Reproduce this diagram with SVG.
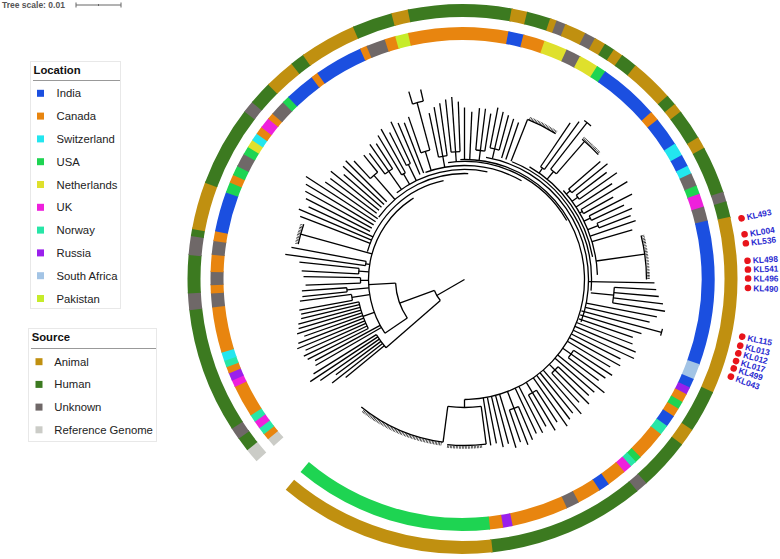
<svg xmlns="http://www.w3.org/2000/svg" width="780" height="559" viewBox="0 0 780 559">
<style>
.rg circle{fill:none;stroke-width:13}
.an{stroke:#c09010}.hu{stroke:#3c7a20}.un{stroke:#6f6868}.rf{stroke:#cbccc7}
.in{stroke:#1b4fe0}.ca{stroke:#e8850f}.sw{stroke:#23e6ef}.us{stroke:#1ed452}.ne{stroke:#dfe02c}
.uk{stroke:#ee20dc}.no{stroke:#27e6a7}.ru{stroke:#9a20ec}.sa{stroke:#a3c4e5}.pk{stroke:#c6ec2a}
.tr{fill:none;stroke:#000;stroke-width:1.3}
.tk{fill:none;stroke:#000;stroke-dasharray:0.6 0.9}
.lt{font-family:"Liberation Sans",Arial,sans-serif;font-weight:bold;font-size:11.3px;fill:#111}
.li{font-family:"Liberation Sans",Arial,sans-serif;font-size:11.3px;fill:#222}
.kl{font-family:"Liberation Sans",Arial,sans-serif;font-weight:bold;font-size:8.5px;fill:#2a2ad0}
</style>

<g id="scale">
<text x="2" y="8" font-family="Liberation Sans, Arial, sans-serif" font-weight="bold" font-size="8.5" fill="#555">Tree scale: 0.01</text>
<path d="M76 5H121M76 2.5V7.5M121 2.5V7.5M98.5 4V6" stroke="#666" stroke-width="1" fill="none"/>
</g>

<g id="ring-location" class="rg" transform="translate(462.5,279)">
<circle r="245.5" class="rf" pathLength="360" stroke-dasharray="2.3 400" transform="rotate(138.5)"/>
<circle r="245.5" class="ca" pathLength="360" stroke-dasharray="1.8 400" transform="rotate(140.5)"/>
<circle r="245.5" class="no" pathLength="360" stroke-dasharray="2 400" transform="rotate(142)"/>
<circle r="245.5" class="uk" pathLength="360" stroke-dasharray="2.1 400" transform="rotate(143.7)"/>
<circle r="245.5" class="no" pathLength="360" stroke-dasharray="2 400" transform="rotate(145.5)"/>
<circle r="245.5" class="ca" pathLength="360" stroke-dasharray="7.7 400" transform="rotate(147.2)"/>
<circle r="245.5" class="uk" pathLength="360" stroke-dasharray="1.9 400" transform="rotate(154.6)"/>
<circle r="245.5" class="ru" pathLength="360" stroke-dasharray="2.1 400" transform="rotate(156.2)"/>
<circle r="245.5" class="ca" pathLength="360" stroke-dasharray="1.8 400" transform="rotate(158)"/>
<circle r="245.5" class="no" pathLength="360" stroke-dasharray="1.8 400" transform="rotate(159.5)"/>
<circle r="245.5" class="sw" pathLength="360" stroke-dasharray="2.3 400" transform="rotate(161)"/>
<circle r="245.5" class="ca" pathLength="360" stroke-dasharray="10.8 400" transform="rotate(163)"/>
<circle r="245.5" class="un" pathLength="360" stroke-dasharray="3.5 400" transform="rotate(173.5)"/>
<circle r="245.5" class="ca" pathLength="360" stroke-dasharray="2.2 400" transform="rotate(176.7)"/>
<circle r="245.5" class="un" pathLength="360" stroke-dasharray="3.3 400" transform="rotate(178.6)"/>
<circle r="245.5" class="ca" pathLength="360" stroke-dasharray="4.2 400" transform="rotate(181.6)"/>
<circle r="245.5" class="un" pathLength="360" stroke-dasharray="3.5 400" transform="rotate(185.5)"/>
<circle r="245.5" class="ca" pathLength="360" stroke-dasharray="2.5 400" transform="rotate(188.7)"/>
<circle r="245.5" class="in" pathLength="360" stroke-dasharray="9.5 400" transform="rotate(190.9)"/>
<circle r="245.5" class="us" pathLength="360" stroke-dasharray="2.7 400" transform="rotate(200.1)"/>
<circle r="245.5" class="ca" pathLength="360" stroke-dasharray="2.2 400" transform="rotate(202.5)"/>
<circle r="245.5" class="us" pathLength="360" stroke-dasharray="2.5 400" transform="rotate(204.4)"/>
<circle r="245.5" class="un" pathLength="360" stroke-dasharray="3.4 400" transform="rotate(206.6)"/>
<circle r="245.5" class="us" pathLength="360" stroke-dasharray="2.2 400" transform="rotate(209.7)"/>
<circle r="245.5" class="ne" pathLength="360" stroke-dasharray="2.1 400" transform="rotate(211.6)"/>
<circle r="245.5" class="sw" pathLength="360" stroke-dasharray="2.1 400" transform="rotate(213.4)"/>
<circle r="245.5" class="ca" pathLength="360" stroke-dasharray="2.1 400" transform="rotate(215.2)"/>
<circle r="245.5" class="uk" pathLength="360" stroke-dasharray="2.8 400" transform="rotate(217)"/>
<circle r="245.5" class="ca" pathLength="360" stroke-dasharray="1.8 400" transform="rotate(219.5)"/>
<circle r="245.5" class="un" pathLength="360" stroke-dasharray="3.8 400" transform="rotate(221)"/>
<circle r="245.5" class="us" pathLength="360" stroke-dasharray="2 400" transform="rotate(224.5)"/>
<circle r="245.5" class="in" pathLength="360" stroke-dasharray="7.3 400" transform="rotate(226.2)"/>
<circle r="245.5" class="ca" pathLength="360" stroke-dasharray="1.9 400" transform="rotate(233.2)"/>
<circle r="245.5" class="in" pathLength="360" stroke-dasharray="11.5 400" transform="rotate(234.8)"/>
<circle r="245.5" class="ca" pathLength="360" stroke-dasharray="1.9 400" transform="rotate(246)"/>
<circle r="245.5" class="un" pathLength="360" stroke-dasharray="4.7 400" transform="rotate(247.6)"/>
<circle r="245.5" class="ca" pathLength="360" stroke-dasharray="2.8 400" transform="rotate(252)"/>
<circle r="245.5" class="pk" pathLength="360" stroke-dasharray="3.3 400" transform="rotate(254.5)"/>
<circle r="245.5" class="ca" pathLength="360" stroke-dasharray="23.3 400" transform="rotate(257.5)"/>
<circle r="245.5" class="in" pathLength="360" stroke-dasharray="3.8 400" transform="rotate(280.5)"/>
<circle r="245.5" class="ca" pathLength="360" stroke-dasharray="5.3 400" transform="rotate(284)"/>
<circle r="245.5" class="ne" pathLength="360" stroke-dasharray="5.7 400" transform="rotate(289)"/>
<circle r="245.5" class="un" pathLength="360" stroke-dasharray="3.7 400" transform="rotate(294.4)"/>
<circle r="245.5" class="ne" pathLength="360" stroke-dasharray="4.8 400" transform="rotate(297.8)"/>
<circle r="245.5" class="us" pathLength="360" stroke-dasharray="2.5 400" transform="rotate(302.3)"/>
<circle r="245.5" class="in" pathLength="360" stroke-dasharray="14.3 400" transform="rotate(304.5)"/>
<circle r="245.5" class="ca" pathLength="360" stroke-dasharray="2.5 400" transform="rotate(318.5)"/>
<circle r="245.5" class="in" pathLength="360" stroke-dasharray="7.1 400" transform="rotate(320.7)"/>
<circle r="245.5" class="sw" pathLength="360" stroke-dasharray="3.3 400" transform="rotate(327.5)"/>
<circle r="245.5" class="in" pathLength="360" stroke-dasharray="3.1 400" transform="rotate(330.5)"/>
<circle r="245.5" class="sw" pathLength="360" stroke-dasharray="2.2 400" transform="rotate(333.3)"/>
<circle r="245.5" class="un" pathLength="360" stroke-dasharray="3.3 400" transform="rotate(335.2)"/>
<circle r="245.5" class="us" pathLength="360" stroke-dasharray="2.3 400" transform="rotate(338.2)"/>
<circle r="245.5" class="uk" pathLength="360" stroke-dasharray="3.4 400" transform="rotate(340.2)"/>
<circle r="245.5" class="un" pathLength="360" stroke-dasharray="3.6 400" transform="rotate(343.3)"/>
<circle r="245.5" class="in" pathLength="360" stroke-dasharray="33.5 400" transform="rotate(346.6)"/>
<circle r="245.5" class="sa" pathLength="360" stroke-dasharray="3.9 400" transform="rotate(19.8)"/>
<circle r="245.5" class="in" pathLength="360" stroke-dasharray="2.4 400" transform="rotate(23.4)"/>
<circle r="245.5" class="ru" pathLength="360" stroke-dasharray="2 400" transform="rotate(25.5)"/>
<circle r="245.5" class="ca" pathLength="360" stroke-dasharray="2.3 400" transform="rotate(27.2)"/>
<circle r="245.5" class="us" pathLength="360" stroke-dasharray="2.1 400" transform="rotate(29.2)"/>
<circle r="245.5" class="ca" pathLength="360" stroke-dasharray="2.3 400" transform="rotate(31)"/>
<circle r="245.5" class="in" pathLength="360" stroke-dasharray="3 400" transform="rotate(33)"/>
<circle r="245.5" class="no" pathLength="360" stroke-dasharray="2.6 400" transform="rotate(35.7)"/>
<circle r="245.5" class="ca" pathLength="360" stroke-dasharray="7.3 400" transform="rotate(38)"/>
<circle r="245.5" class="us" pathLength="360" stroke-dasharray="1.8 400" transform="rotate(45)"/>
<circle r="245.5" class="no" pathLength="360" stroke-dasharray="1.8 400" transform="rotate(46.5)"/>
<circle r="245.5" class="uk" pathLength="360" stroke-dasharray="2.3 400" transform="rotate(48)"/>
<circle r="245.5" class="ca" pathLength="360" stroke-dasharray="4.8 400" transform="rotate(50)"/>
<circle r="245.5" class="in" pathLength="360" stroke-dasharray="2.8 400" transform="rotate(54.5)"/>
<circle r="245.5" class="ca" pathLength="360" stroke-dasharray="5.8 400" transform="rotate(57)"/>
<circle r="245.5" class="un" pathLength="360" stroke-dasharray="3.3 400" transform="rotate(62.5)"/>
<circle r="245.5" class="ca" pathLength="360" stroke-dasharray="13.3 400" transform="rotate(65.5)"/>
<circle r="245.5" class="ru" pathLength="360" stroke-dasharray="2.5 400" transform="rotate(78.5)"/>
<circle r="245.5" class="ca" pathLength="360" stroke-dasharray="3.3 400" transform="rotate(80.7)"/>
<circle r="245.5" class="us" pathLength="360" stroke-dasharray="46.3 400" transform="rotate(83.7)"/>
</g>

<g id="ring-source" class="rg" transform="translate(462.5,279)">
<circle r="268.5" class="rf" pathLength="360" stroke-dasharray="3.3 400" transform="rotate(138.5)"/>
<circle r="268.5" class="hu" pathLength="360" stroke-dasharray="3.3 400" transform="rotate(141.5)"/>
<circle r="268.5" class="un" pathLength="360" stroke-dasharray="2.8 400" transform="rotate(144.5)"/>
<circle r="268.5" class="hu" pathLength="360" stroke-dasharray="26.8 400" transform="rotate(147)"/>
<circle r="268.5" class="un" pathLength="360" stroke-dasharray="3.8 400" transform="rotate(173.5)"/>
<circle r="268.5" class="hu" pathLength="360" stroke-dasharray="8.3 400" transform="rotate(177)"/>
<circle r="268.5" class="un" pathLength="360" stroke-dasharray="4.3 400" transform="rotate(185)"/>
<circle r="268.5" class="hu" pathLength="360" stroke-dasharray="1.8 400" transform="rotate(189)"/>
<circle r="268.5" class="an" pathLength="360" stroke-dasharray="10.3 400" transform="rotate(190.5)"/>
<circle r="268.5" class="hu" pathLength="360" stroke-dasharray="17.3 400" transform="rotate(200.5)"/>
<circle r="268.5" class="un" pathLength="360" stroke-dasharray="2.8 400" transform="rotate(217.5)"/>
<circle r="268.5" class="hu" pathLength="360" stroke-dasharray="5.3 400" transform="rotate(220)"/>
<circle r="268.5" class="an" pathLength="360" stroke-dasharray="6.8 400" transform="rotate(225)"/>
<circle r="268.5" class="hu" pathLength="360" stroke-dasharray="3.3 400" transform="rotate(231.5)"/>
<circle r="268.5" class="an" pathLength="360" stroke-dasharray="12.3 400" transform="rotate(234.5)"/>
<circle r="268.5" class="hu" pathLength="360" stroke-dasharray="8.8 400" transform="rotate(246.5)"/>
<circle r="268.5" class="an" pathLength="360" stroke-dasharray="3.8 400" transform="rotate(255)"/>
<circle r="268.5" class="hu" pathLength="360" stroke-dasharray="22.1 400" transform="rotate(258.5)"/>
<circle r="268.5" class="an" pathLength="360" stroke-dasharray="3.6 400" transform="rotate(280.3)"/>
<circle r="268.5" class="hu" pathLength="360" stroke-dasharray="5.3 400" transform="rotate(283.6)"/>
<circle r="268.5" class="an" pathLength="360" stroke-dasharray="1.7 400" transform="rotate(288.6)"/>
<circle r="268.5" class="un" pathLength="360" stroke-dasharray="2.3 400" transform="rotate(290)"/>
<circle r="268.5" class="an" pathLength="360" stroke-dasharray="4.8 400" transform="rotate(292)"/>
<circle r="268.5" class="un" pathLength="360" stroke-dasharray="2.6 400" transform="rotate(296.5)"/>
<circle r="268.5" class="an" pathLength="360" stroke-dasharray="2.7 400" transform="rotate(298.8)"/>
<circle r="268.5" class="hu" pathLength="360" stroke-dasharray="2.5 400" transform="rotate(301.2)"/>
<circle r="268.5" class="an" pathLength="360" stroke-dasharray="2.4 400" transform="rotate(303.4)"/>
<circle r="268.5" class="hu" pathLength="360" stroke-dasharray="3.8 400" transform="rotate(305.5)"/>
<circle r="268.5" class="an" pathLength="360" stroke-dasharray="9.5 400" transform="rotate(309)"/>
<circle r="268.5" class="hu" pathLength="360" stroke-dasharray="2.6 400" transform="rotate(318.2)"/>
<circle r="268.5" class="an" pathLength="360" stroke-dasharray="2.3 400" transform="rotate(320.5)"/>
<circle r="268.5" class="hu" pathLength="360" stroke-dasharray="6.8 400" transform="rotate(322.5)"/>
<circle r="268.5" class="an" pathLength="360" stroke-dasharray="2.8 400" transform="rotate(329)"/>
<circle r="268.5" class="hu" pathLength="360" stroke-dasharray="10.3 400" transform="rotate(331.5)"/>
<circle r="268.5" class="un" pathLength="360" stroke-dasharray="2.4 400" transform="rotate(341.5)"/>
<circle r="268.5" class="hu" pathLength="360" stroke-dasharray="3.6 400" transform="rotate(343.6)"/>
<circle r="268.5" class="an" pathLength="360" stroke-dasharray="37.7 400" transform="rotate(346.9)"/>
<circle r="268.5" class="hu" pathLength="360" stroke-dasharray="9.3 400" transform="rotate(24.3)"/>
<circle r="268.5" class="an" pathLength="360" stroke-dasharray="4 400" transform="rotate(33.3)"/>
<circle r="268.5" class="hu" pathLength="360" stroke-dasharray="11.3 400" transform="rotate(37)"/>
<circle r="268.5" class="un" pathLength="360" stroke-dasharray="2.8 400" transform="rotate(48)"/>
<circle r="268.5" class="hu" pathLength="360" stroke-dasharray="33.5 400" transform="rotate(50.5)"/>
<circle r="268.5" class="an" pathLength="360" stroke-dasharray="46.3 400" transform="rotate(83.7)"/>
</g>

<g id="tree" class="tr" transform="translate(464.5,279.5)">
<circle r="32" pathLength="360" stroke-dasharray="21 400" transform="rotate(139)"/>
<circle r="69" pathLength="360" stroke-dasharray="31 400" transform="rotate(146)"/>
<circle r="104" pathLength="360" stroke-dasharray="9 400" transform="rotate(139)"/>
<circle r="96" pathLength="360" stroke-dasharray="92 400" transform="rotate(146)"/>
<circle r="108" pathLength="360" stroke-dasharray="15 400" transform="rotate(153)"/>
<circle r="101" pathLength="360" stroke-dasharray="62 400" transform="rotate(196)"/>
<circle r="106" pathLength="360" stroke-dasharray="56 400" transform="rotate(216)"/>
<circle r="110" pathLength="360" stroke-dasharray="50 400" transform="rotate(232)"/>
<circle r="114" pathLength="360" stroke-dasharray="50 400" transform="rotate(250)"/>
<circle r="118" pathLength="360" stroke-dasharray="68 400" transform="rotate(262)"/>
<circle r="120" pathLength="360" stroke-dasharray="182 400" transform="rotate(268)"/>
<circle r="124" pathLength="360" stroke-dasharray="100 400" transform="rotate(280)"/>
<circle r="127" pathLength="360" stroke-dasharray="73 400" transform="rotate(292)"/>
<circle r="130" pathLength="360" stroke-dasharray="50 400" transform="rotate(300)"/>
<circle r="133" pathLength="360" stroke-dasharray="40 400" transform="rotate(318)"/>
<circle r="128" pathLength="360" stroke-dasharray="15 400" transform="rotate(82.5)"/>
<circle r="114" pathLength="360" stroke-dasharray="3 400" transform="rotate(169.5)"/>
<circle r="118" pathLength="360" stroke-dasharray="2 400" transform="rotate(174)"/>
<circle r="104" pathLength="360" stroke-dasharray="3 400" transform="rotate(178)"/>
<circle r="106" pathLength="360" stroke-dasharray="3 400" transform="rotate(183)"/>
<circle r="100" pathLength="360" stroke-dasharray="2.5 400" transform="rotate(188)"/>
<circle r="138" pathLength="360" stroke-dasharray="4 400" transform="rotate(227)"/>
<circle r="132" pathLength="360" stroke-dasharray="4 400" transform="rotate(233)"/>
<circle r="122" pathLength="360" stroke-dasharray="2 400" transform="rotate(239)"/>
<circle r="128" pathLength="360" stroke-dasharray="2 400" transform="rotate(243)"/>
<circle r="134" pathLength="360" stroke-dasharray="4 400" transform="rotate(251)"/>
<circle r="183" pathLength="360" stroke-dasharray="3.5 400" transform="rotate(253.5)"/>
<circle r="125" pathLength="360" stroke-dasharray="4 400" transform="rotate(258)"/>
<circle r="128" pathLength="360" stroke-dasharray="4 400" transform="rotate(264)"/>
<circle r="130" pathLength="360" stroke-dasharray="4 400" transform="rotate(275)"/>
<circle r="134" pathLength="360" stroke-dasharray="4 400" transform="rotate(281)"/>
<circle r="136" pathLength="360" stroke-dasharray="2 400" transform="rotate(304)"/>
<circle r="140" pathLength="360" stroke-dasharray="3 400" transform="rotate(308)"/>
<circle r="138" pathLength="360" stroke-dasharray="2 400" transform="rotate(319)"/>
<circle r="140" pathLength="360" stroke-dasharray="2 400" transform="rotate(323)"/>
<circle r="136" pathLength="360" stroke-dasharray="2 400" transform="rotate(329)"/>
<circle r="140" pathLength="360" stroke-dasharray="2 400" transform="rotate(333)"/>
<circle r="144" pathLength="360" stroke-dasharray="2 400" transform="rotate(337)"/>
<circle r="150" pathLength="360" stroke-dasharray="6 400" transform="rotate(3)"/>
<circle r="130" pathLength="360" stroke-dasharray="4 400" transform="rotate(33)"/>
<circle r="128" pathLength="360" stroke-dasharray="4 400" transform="rotate(43)"/>
<circle r="132" pathLength="360" stroke-dasharray="4 400" transform="rotate(57)"/>
<circle r="138" pathLength="360" stroke-dasharray="4 400" transform="rotate(67)"/>
<circle r="199" pathLength="360" stroke-dasharray="2.5 400" transform="rotate(307)"/>
<circle r="204" pathLength="360" stroke-dasharray="2 400" transform="rotate(14)"/>
<circle r="164" pathLength="360" stroke-dasharray="31.5 400" transform="rotate(97.5)"/>
<circle r="166" pathLength="360" stroke-dasharray="13.5 400" transform="rotate(82.5)"/>
<circle r="172" pathLength="360" stroke-dasharray="10.5 400" transform="rotate(291.5)"/>
<circle r="170" pathLength="360" stroke-dasharray="7 400" transform="rotate(192)"/>
<circle r="183" pathLength="360" stroke-dasharray="7 400" transform="rotate(310)"/>
<circle r="182" pathLength="360" stroke-dasharray="14 400" transform="rotate(346)"/>
<path class="tk" stroke-width="3.5" d="M166 0A166 166 0 0 1 143.76 83" transform="rotate(98)"/>
<path class="tk" stroke-width="2.5" d="M168 0A168 168 0 0 1 164.32 34.93" transform="rotate(84)"/>
<path class="tk" stroke-width="3.5" d="M173.5 0A173.5 173.5 0 0 1 170.86 30.12" transform="rotate(292)"/>
<path class="tk" stroke-width="2.5" d="M172 0A172 172 0 0 1 170.71 20.97" transform="rotate(192)"/>
<path class="tk" stroke-width="2.5" d="M185 0A185 185 0 0 1 183.61 22.55" transform="rotate(310)"/>
<path class="tk" stroke-width="2.5" d="M184 0A184 184 0 0 1 178.54 44.51" transform="rotate(346)"/>
<path d="M0 0H32" transform="rotate(150)"/>
<path d="M32 0H104" transform="rotate(139)"/>
<path d="M32 0H69" transform="rotate(160)"/>
<path d="M69 0H96" transform="rotate(146)"/>
<path d="M69 0H96" transform="rotate(177)"/>
<path d="M96 0H108" transform="rotate(160)"/>
<path d="M96 0H114" transform="rotate(171)"/>
<path d="M96 0H118" transform="rotate(175)"/>
<path d="M96 0H104" transform="rotate(179.5)"/>
<path d="M96 0H106" transform="rotate(184.5)"/>
<path d="M96 0H100" transform="rotate(189)"/>
<path d="M96 0H170" transform="rotate(195.5)"/>
<path d="M106 0H138" transform="rotate(229)"/>
<path d="M110 0H132" transform="rotate(235)"/>
<path d="M110 0H122" transform="rotate(240)"/>
<path d="M110 0H128" transform="rotate(244)"/>
<path d="M114 0H134" transform="rotate(253)"/>
<path d="M134 0H183" transform="rotate(255)"/>
<path d="M114 0H125" transform="rotate(260)"/>
<path d="M118 0H128" transform="rotate(266)"/>
<path d="M120 0H130" transform="rotate(277)"/>
<path d="M124 0H134" transform="rotate(283)"/>
<path d="M127 0H172" transform="rotate(291.5)"/>
<path d="M130 0H136" transform="rotate(305)"/>
<path d="M130 0H140" transform="rotate(309.5)"/>
<path d="M133 0H138" transform="rotate(320)"/>
<path d="M133 0H140" transform="rotate(324)"/>
<path d="M133 0H136" transform="rotate(330)"/>
<path d="M133 0H140" transform="rotate(334)"/>
<path d="M133 0H144" transform="rotate(338)"/>
<path d="M133 0H182" transform="rotate(352)"/>
<path d="M127 0H150" transform="rotate(6)"/>
<path d="M120 0H130" transform="rotate(35)"/>
<path d="M120 0H128" transform="rotate(45)"/>
<path d="M120 0H132" transform="rotate(59)"/>
<path d="M120 0H138" transform="rotate(69)"/>
<path d="M120 0H128" transform="rotate(90)"/>
<path d="M128 0H164" transform="rotate(97.5)"/>
<path d="M128 0H166" transform="rotate(82.5)"/>
<path d="M104 0H154" transform="rotate(140.5)"/>
<path d="M104 0H168" transform="rotate(142)"/>
<path d="M104 0H160" transform="rotate(143.5)"/>
<path d="M104 0H176" transform="rotate(145)"/>
<path d="M104 0H185" transform="rotate(146.5)"/>
<path d="M104 0H178" transform="rotate(148)"/>
<path d="M96 0H172" transform="rotate(150)"/>
<path d="M96 0H170" transform="rotate(151.5)"/>
<path d="M108 0H176" transform="rotate(153)"/>
<path d="M108 0H178" transform="rotate(154.5)"/>
<path d="M108 0H174" transform="rotate(156)"/>
<path d="M108 0H181" transform="rotate(157.5)"/>
<path d="M108 0H178" transform="rotate(159)"/>
<path d="M108 0H170" transform="rotate(160.5)"/>
<path d="M108 0H176" transform="rotate(162)"/>
<path d="M108 0H173" transform="rotate(163.5)"/>
<path d="M108 0H172" transform="rotate(165)"/>
<path d="M108 0H168" transform="rotate(166.5)"/>
<path d="M108 0H167" transform="rotate(168)"/>
<path d="M114 0H168" transform="rotate(169.5)"/>
<path d="M114 0H166" transform="rotate(172.5)"/>
<path d="M118 0H163" transform="rotate(174)"/>
<path d="M118 0H163" transform="rotate(176)"/>
<path d="M104 0H159" transform="rotate(178)"/>
<path d="M104 0H161" transform="rotate(181)"/>
<path d="M106 0H163" transform="rotate(183)"/>
<path d="M106 0H166" transform="rotate(186)"/>
<path d="M100 0H181" transform="rotate(188)"/>
<path d="M100 0H176" transform="rotate(190.5)"/>
<path d="M101 0H176" transform="rotate(201)"/>
<path d="M101 0H180" transform="rotate(203)"/>
<path d="M101 0H172" transform="rotate(205)"/>
<path d="M106 0H178" transform="rotate(207)"/>
<path d="M106 0H182" transform="rotate(209)"/>
<path d="M106 0H185" transform="rotate(211)"/>
<path d="M106 0H189" transform="rotate(213)"/>
<path d="M106 0H170" transform="rotate(215)"/>
<path d="M110 0H168" transform="rotate(217)"/>
<path d="M110 0H172" transform="rotate(219)"/>
<path d="M110 0H160" transform="rotate(221)"/>
<path d="M110 0H166" transform="rotate(223)"/>
<path d="M110 0H168" transform="rotate(225)"/>
<path d="M138 0H162" transform="rotate(227)"/>
<path d="M138 0H160" transform="rotate(231)"/>
<path d="M132 0H158" transform="rotate(233)"/>
<path d="M132 0H165" transform="rotate(235)"/>
<path d="M132 0H162" transform="rotate(237)"/>
<path d="M122 0H168" transform="rotate(239)"/>
<path d="M122 0H172" transform="rotate(241)"/>
<path d="M128 0H165" transform="rotate(243)"/>
<path d="M128 0H174" transform="rotate(245)"/>
<path d="M114 0H170" transform="rotate(247)"/>
<path d="M114 0H168" transform="rotate(249)"/>
<path d="M134 0H172" transform="rotate(251)"/>
<path d="M183 0H196" transform="rotate(253.5)"/>
<path d="M183 0H195" transform="rotate(257)"/>
<path d="M125 0H170" transform="rotate(258)"/>
<path d="M125 0H175" transform="rotate(260)"/>
<path d="M125 0H178" transform="rotate(262)"/>
<path d="M128 0H181" transform="rotate(264)"/>
<path d="M128 0H183" transform="rotate(266)"/>
<path d="M128 0H178" transform="rotate(268)"/>
<path d="M120 0H172" transform="rotate(270)"/>
<path d="M120 0H168" transform="rotate(272.5)"/>
<path d="M130 0H172" transform="rotate(275)"/>
<path d="M130 0H172" transform="rotate(277)"/>
<path d="M130 0H168" transform="rotate(279)"/>
<path d="M134 0H175" transform="rotate(281)"/>
<path d="M134 0H172" transform="rotate(283)"/>
<path d="M134 0H170" transform="rotate(285)"/>
<path d="M127 0H168" transform="rotate(287)"/>
<path d="M127 0H166" transform="rotate(289)"/>
<path d="M136 0H189" transform="rotate(304)"/>
<path d="M136 0H195" transform="rotate(306)"/>
<path d="M140 0H199" transform="rotate(308)"/>
<path d="M140 0H183" transform="rotate(311)"/>
<path d="M138 0H180" transform="rotate(319)"/>
<path d="M138 0H184" transform="rotate(321)"/>
<path d="M140 0H178" transform="rotate(323)"/>
<path d="M140 0H186" transform="rotate(325)"/>
<path d="M133 0H176" transform="rotate(327)"/>
<path d="M136 0H190" transform="rotate(329)"/>
<path d="M136 0H170" transform="rotate(331)"/>
<path d="M140 0H188" transform="rotate(333)"/>
<path d="M140 0H176" transform="rotate(335)"/>
<path d="M144 0H182" transform="rotate(337)"/>
<path d="M144 0H178" transform="rotate(339)"/>
<path d="M133 0H181" transform="rotate(341)"/>
<path d="M133 0H175" transform="rotate(343.5)"/>
<path d="M124 0H190" transform="rotate(1)"/>
<path d="M150 0H192" transform="rotate(3)"/>
<path d="M150 0H195" transform="rotate(5)"/>
<path d="M150 0H200" transform="rotate(7)"/>
<path d="M150 0H203" transform="rotate(9)"/>
<path d="M124 0H196" transform="rotate(11)"/>
<path d="M124 0H190" transform="rotate(13)"/>
<path d="M121 0H204" transform="rotate(15)"/>
<path d="M121 0H185" transform="rotate(17)"/>
<path d="M121 0H178" transform="rotate(19)"/>
<path d="M120 0H180" transform="rotate(21)"/>
<path d="M120 0H186" transform="rotate(23)"/>
<path d="M120 0H187" transform="rotate(25)"/>
<path d="M120 0H175" transform="rotate(27)"/>
<path d="M120 0H178" transform="rotate(29)"/>
<path d="M120 0H170" transform="rotate(31)"/>
<path d="M130 0H176" transform="rotate(33)"/>
<path d="M130 0H172" transform="rotate(35)"/>
<path d="M130 0H168" transform="rotate(37)"/>
<path d="M120 0H180" transform="rotate(39)"/>
<path d="M120 0H172" transform="rotate(41)"/>
<path d="M128 0H170" transform="rotate(43)"/>
<path d="M128 0H176" transform="rotate(45)"/>
<path d="M128 0H168" transform="rotate(47)"/>
<path d="M120 0H178" transform="rotate(49)"/>
<path d="M120 0H172" transform="rotate(51)"/>
<path d="M120 0H175" transform="rotate(53)"/>
<path d="M120 0H179" transform="rotate(55)"/>
<path d="M132 0H170" transform="rotate(57)"/>
<path d="M132 0H176" transform="rotate(59)"/>
<path d="M132 0H168" transform="rotate(61)"/>
<path d="M120 0H172" transform="rotate(63)"/>
<path d="M120 0H170" transform="rotate(65)"/>
<path d="M138 0H174" transform="rotate(67)"/>
<path d="M138 0H177" transform="rotate(69)"/>
<path d="M138 0H172" transform="rotate(71)"/>
<path d="M120 0H176" transform="rotate(73)"/>
<path d="M120 0H170" transform="rotate(75)"/>
<path d="M120 0H172" transform="rotate(77)"/>
<path d="M120 0H167" transform="rotate(79)"/>
<path d="M120 0H168" transform="rotate(81)"/>
</g>

<g id="legend-location">
<rect x="30.5" y="61.5" width="90" height="247" fill="#fff" stroke="#e8e8e8"/>
<text x="33.5" y="74" class="lt">Location</text>
<line x1="33" y1="80.5" x2="120" y2="80.5" stroke="#999"/>
<rect x="37" y="89.8" width="7" height="7" fill="#1b4fe0"/><text x="56.5" y="97.3" class="li">India</text>
<rect x="37" y="112.6" width="7" height="7" fill="#e8850f"/><text x="56.5" y="120.1" class="li">Canada</text>
<rect x="37" y="135.4" width="7" height="7" fill="#23e6ef"/><text x="56.5" y="142.9" class="li">Switzerland</text>
<rect x="37" y="158.2" width="7" height="7" fill="#1ed452"/><text x="56.5" y="165.7" class="li">USA</text>
<rect x="37" y="181" width="7" height="7" fill="#dfe02c"/><text x="56.5" y="188.5" class="li">Netherlands</text>
<rect x="37" y="203.8" width="7" height="7" fill="#ee20dc"/><text x="56.5" y="211.3" class="li">UK</text>
<rect x="37" y="226.6" width="7" height="7" fill="#27e6a7"/><text x="56.5" y="234.1" class="li">Norway</text>
<rect x="37" y="249.4" width="7" height="7" fill="#9a20ec"/><text x="56.5" y="256.9" class="li">Russia</text>
<rect x="37" y="272.2" width="7" height="7" fill="#a3c4e5"/><text x="56.5" y="279.7" class="li">South Africa</text>
<rect x="37" y="295" width="7" height="7" fill="#c6ec2a"/><text x="56.5" y="302.5" class="li">Pakistan</text>
</g>

<g id="legend-source">
<rect x="28.5" y="328.5" width="128" height="113" fill="#fff" stroke="#e8e8e8"/>
<text x="31.7" y="341" class="lt">Source</text>
<line x1="31" y1="348.5" x2="156" y2="348.5" stroke="#999"/>
<rect x="35.5" y="358.2" width="7" height="7" fill="#c09010"/><text x="54.3" y="365.7" class="li">Animal</text>
<rect x="35.5" y="380.9" width="7" height="7" fill="#3c7a20"/><text x="54.3" y="388.4" class="li">Human</text>
<rect x="35.5" y="403.6" width="7" height="7" fill="#6f6868"/><text x="54.3" y="411.1" class="li">Unknown</text>
<rect x="35.5" y="426.3" width="7" height="7" fill="#cbccc7"/><text x="54.3" y="433.8" class="li">Reference Genome</text>
</g>

<g id="labels" transform="translate(462.5,279)">
<g transform="rotate(-12.27)"><circle cx="285.6" r="3.3" fill="#e8141b"/><text x="291" y="3" class="kl" textLength="25" lengthAdjust="spacingAndGlyphs">KL493</text></g>
<g transform="rotate(-9.01)"><circle cx="285.6" r="3.3" fill="#e8141b"/><text x="291" y="3" class="kl" textLength="25" lengthAdjust="spacingAndGlyphs">KL004</text></g>
<g transform="rotate(-7.18)"><circle cx="285.6" r="3.3" fill="#e8141b"/><text x="291" y="3" class="kl" textLength="25" lengthAdjust="spacingAndGlyphs">KL536</text></g>
<g transform="rotate(-3.67)"><circle cx="285.6" r="3.3" fill="#e8141b"/><text x="291" y="3" class="kl" textLength="25" lengthAdjust="spacingAndGlyphs">KL498</text></g>
<g transform="rotate(-1.9)"><circle cx="285.6" r="3.3" fill="#e8141b"/><text x="291" y="3" class="kl" textLength="25" lengthAdjust="spacingAndGlyphs">KL541</text></g>
<g transform="rotate(-0.1)"><circle cx="285.6" r="3.3" fill="#e8141b"/><text x="291" y="3" class="kl" textLength="25" lengthAdjust="spacingAndGlyphs">KL496</text></g>
<g transform="rotate(1.8)"><circle cx="285.6" r="3.3" fill="#e8141b"/><text x="291" y="3" class="kl" textLength="25" lengthAdjust="spacingAndGlyphs">KL490</text></g>
<g transform="rotate(11.65)"><circle cx="285.6" r="3.3" fill="#e8141b"/><text x="291" y="3" class="kl" textLength="25" lengthAdjust="spacingAndGlyphs">KL115</text></g>
<g transform="rotate(13.5)"><circle cx="285.6" r="3.3" fill="#e8141b"/><text x="291" y="3" class="kl" textLength="25" lengthAdjust="spacingAndGlyphs">KL013</text></g>
<g transform="rotate(15.08)"><circle cx="285.6" r="3.3" fill="#e8141b"/><text x="291" y="3" class="kl" textLength="25" lengthAdjust="spacingAndGlyphs">KL012</text></g>
<g transform="rotate(16.7)"><circle cx="285.6" r="3.3" fill="#e8141b"/><text x="291" y="3" class="kl" textLength="25" lengthAdjust="spacingAndGlyphs">KL017</text></g>
<g transform="rotate(18.25)"><circle cx="285.6" r="3.3" fill="#e8141b"/><text x="291" y="3" class="kl" textLength="25" lengthAdjust="spacingAndGlyphs">KL499</text></g>
<g transform="rotate(20)"><circle cx="285.6" r="3.3" fill="#e8141b"/><text x="291" y="3" class="kl" textLength="25" lengthAdjust="spacingAndGlyphs">KL043</text></g>
</g>
</svg>
